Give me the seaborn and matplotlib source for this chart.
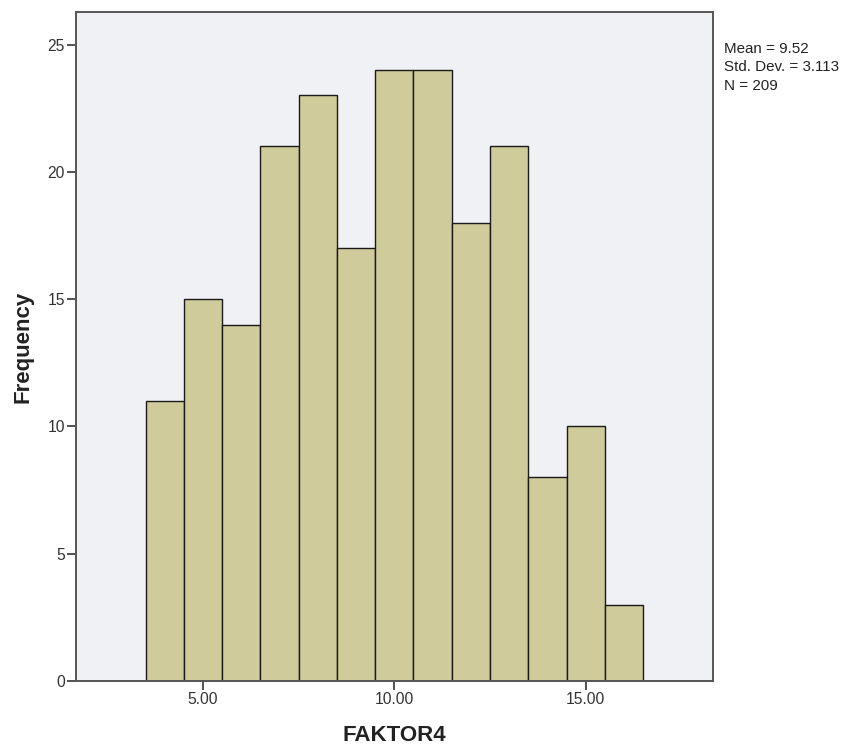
import numpy as np
import pandas as pd
import matplotlib
matplotlib.use("Agg")
import matplotlib.pyplot as plt
import seaborn as sns

bin_centers = [4, 5, 6, 7, 8, 9, 10, 11, 12, 13, 14, 15, 16]
frequencies = [11, 15, 14, 21, 23, 17, 24, 24, 18, 21, 8, 10, 3]
x_ticks = [5, 10, 15]
x_tick_labels = ["5.00", "10.00", "15.00"]
y_ticks = [0, 5, 10, 15, 20, 25]
stats_text = "Mean = 9.52\nStd. Dev. = 3.113\nN = 209"

sns.set_style("white")
plt.rcParams['font.family'] = ['Liberation Sans', 'DejaVu Sans']

df = pd.DataFrame({"FAKTOR4": bin_centers, "count": frequencies})

fig = plt.figure(figsize=(8.54, 7.45), dpi=100)
ax = fig.add_axes([0.089, 0.086, 0.746, 0.898])
ax.set_facecolor("#F0F1F4")

sns.histplot(data=df, x="FAKTOR4", weights="count",
             binwidth=1.0, binrange=(3.5, 16.5), stat="count",
             color="#CFCB9A", alpha=1.0, edgecolor="#1a1a1a",
             linewidth=1.0, ax=ax)

ax.set_xlim(1.68, 18.33)
ax.set_ylim(0, 26.28)
ax.set_xticks(x_ticks)
ax.set_xticklabels(x_tick_labels)
ax.set_yticks(y_ticks)
ax.tick_params(axis="both", direction="out", length=6.5, width=1.3,
               color="#444444", labelsize=11.25, labelcolor="#333333",
               bottom=True, left=True, pad=1.5)
for s in ax.spines.values():
    s.set_color("#555555")
    s.set_linewidth(1.4)

ax.set_xlabel("FAKTOR4", fontsize=16, fontweight="bold", color="#222222")
ax.set_ylabel("Frequency", fontsize=16, fontweight="bold", color="#222222")
ax.xaxis.set_label_coords(0.5, -(725 - 681) / 669.3)
ax.yaxis.set_label_coords((33 - 76) / 637, 0.5)

fig.text(724 / 854, 1 - 42 / 745, stats_text, fontsize=10.9, color="#222222",
         va="top", ha="left", linespacing=1.4)

fig.savefig("out.png", dpi=100)
